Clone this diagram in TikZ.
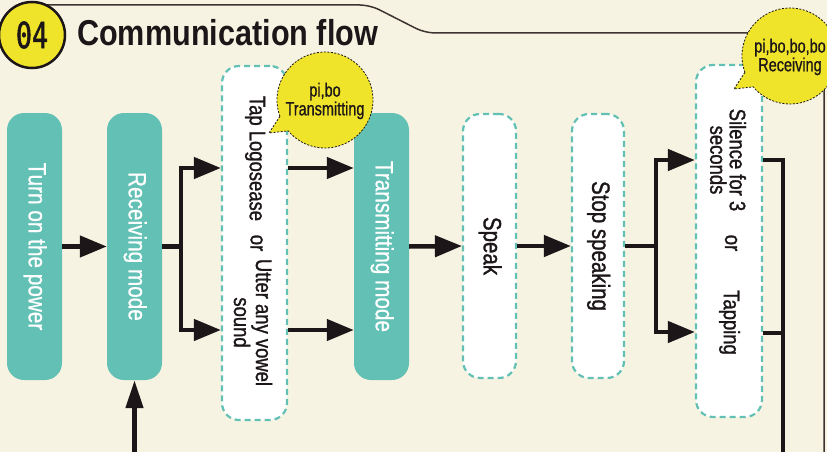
\documentclass[tikz,border=0pt]{standalone}
\usepackage{fontspec}
\setmainfont{Liberation Sans}
\newfontfamily\boxfont{Liberation Sans}[FakeStretch=0.83, FakeBold=0.6]
\newfontfamily\darkfont{Liberation Sans}[FakeStretch=0.82, FakeBold=1.2]
\newfontfamily\smallfont{Liberation Sans}[FakeStretch=0.82, FakeBold=1.2]
\newfontfamily\bubfont{Liberation Sans}[FakeStretch=0.76, FakeBold=0.8]
\newfontfamily\titlefont{Liberation Sans}[FakeStretch=0.85]
\newfontfamily\numfont{DejaVu Sans Mono}[FakeStretch=0.74, FakeBold=1.5]
\usetikzlibrary{arrows.meta}
\definecolor{bg}{HTML}{F7F3E2}
\definecolor{tealbox}{HTML}{62C1B4}
\definecolor{ybub}{HTML}{F0E42B}
\definecolor{ink}{HTML}{1C1618}
\definecolor{framec}{HTML}{3D3431}
\tikzset{
  solidbox/.style={fill=tealbox, rounded corners=17pt, minimum width=55pt, minimum height=267pt, inner sep=0pt, text=white, font=\boxfont\fontsize{25}{29}\selectfont},
  dashbox/.style={fill=white, draw=tealbox, line width=2.2pt, dash pattern=on 6pt off 4pt, rounded corners=17pt, inner sep=0pt, text=ink, font=\darkfont\fontsize{25}{29}\selectfont},
  smalltext/.style={rotate=-90, align=center, inner sep=0pt, text=ink, font=\smallfont\fontsize{22.5}{19.5}\selectfont},
  stem/.style={line width=4.5pt, draw=ink},
  flow/.style={line width=4.5pt, draw=ink, -{Triangle[length=27pt, width=21pt]}},
  bubble/.style={fill=ybub, draw=ink, line width=0.8pt, dash pattern=on 2pt off 1.5pt},
  bubtext/.style={align=center, inner sep=0pt, text=ink, font=\bubfont\fontsize{19}{17}\selectfont},
  framel/.style={draw=framec, line width=1.5pt, rounded corners=10pt}
}
\begin{document}
\begin{tikzpicture}[x=1pt, y=-1pt]
\useasboundingbox (0,0) rectangle (827,452);
\clip (0,0) rectangle (827,452);
\fill[bg] (0,0) rectangle (827,452);
% frame line
\draw[framel] (40,5) -- (370,5) -- (425,33) -- (824,33) -- (824,470);
% badge and title
\node[circle, fill=ybub, draw=ink, line width=2.5pt, minimum size=66pt, inner sep=0pt, font=\numfont\fontsize{36}{36}\selectfont, text=ink] (badge) at (32,35) {04};
\node[anchor=base west, inner sep=0pt, text=ink, font=\titlefont\bfseries\fontsize{36}{40}\selectfont] (title) at (77,46) {Communication flow};
% boxes
\node[solidbox] (power) at (34.5,246.5) {\rotatebox{-90}{\strut Turn on the power}};
\node[solidbox] (recv) at (134.5,246.5) {\rotatebox{-90}{\strut Receiving mode}};
\node[dashbox, minimum width=65pt, minimum height=354pt] (tap) at (254.5,243) {};
\node[solidbox] (trans) at (381.5,246.5) {\rotatebox{-90}{\strut Transmitting mode}};
\node[dashbox, minimum width=53pt, minimum height=264pt] (speak) at (489.5,246) {\rotatebox{-90}{\strut Speak}};
\node[dashbox, minimum width=52pt, minimum height=264pt] (stop) at (598,246) {\rotatebox{-90}{\strut Stop speaking}};
\node[dashbox, minimum width=66pt, minimum height=352pt] (silence) at (729,241) {};
% texts in the double boxes
\node[smalltext] (tapA) at (254.5,158.5) {\strut Tap Logosease};
\node[smalltext] (tapOr) at (254.5,243) {\strut or};
\node[smalltext] (tapB) at (253,322.5) {Utter any vowel\\sound};
\node[smalltext] (silA) at (728,160) {Silence for 3\\seconds};
\node[smalltext] (silOr) at (729,243) {\strut or};
\node[smalltext] (silB) at (729,322.5) {\strut Tapping};
% connectors
\draw[flow] (power.east) -- (recv.west);
\draw[stem] (recv.east) -- ++(19,0) coordinate (j1);
\draw[flow] (j1) |- (tap.west |- 0,168);
\draw[flow] (j1) |- (tap.west |- 0,330);
\draw[flow] (tap.east |- 0,168) -- (trans.west |- 0,168);
\draw[flow] (tap.east |- 0,330) -- (trans.west |- 0,330);
\draw[flow] (trans.east) -- (speak.west);
\draw[flow] (speak.east) -- (stop.west);
\draw[stem] (stop.east) -- ++(31,0) coordinate (j2);
\draw[flow] (j2) |- (silence.west |- 0,160);
\draw[flow] (j2) |- (silence.west |- 0,332);
\coordinate (loopR) at (783,475);
\draw[line width=4.5pt, draw=ink, -{Triangle[length=28pt, width=17pt]}] (silence.east |- 0,160) -| (loopR) -| (recv.south);
\draw[stem] (silence.east |- 0,333) -- (loopR |- 0,333);
% bubbles
\draw[bubble] (325,100) ++(160:48) arc[start angle=160, end angle=500, radius=48] -- (269,133) -- cycle;
\node[bubtext] (bub1) at (325,101) {pi,bo\\Transmitting};
\draw[bubble] (790,56) ++(160:48) arc[start angle=160, end angle=500, radius=48] -- (734,89) -- cycle;
\node[bubtext] (bub2) at (790,57) {pi,bo,bo,bo\\Receiving};
\end{tikzpicture}
\end{document}
